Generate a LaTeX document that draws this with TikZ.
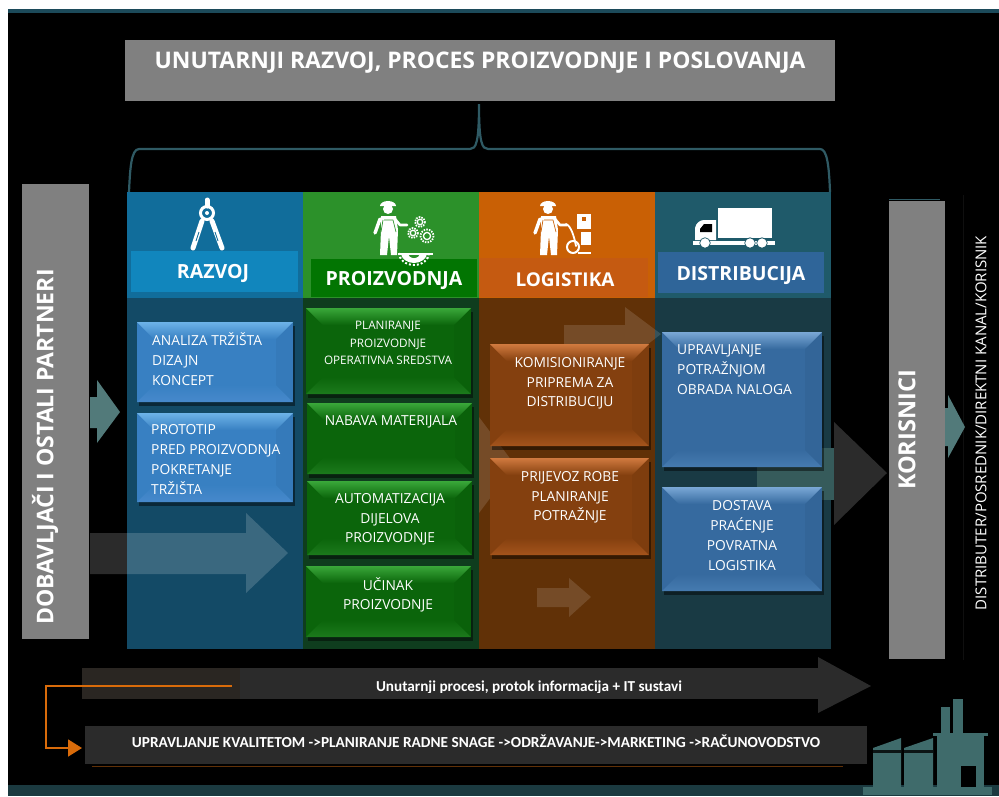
\documentclass[tikz,border=0pt]{standalone}
\usepackage{fontspec}
\setmainfont{Open Sans}
\newfontfamily\carl{Carlito}
\usetikzlibrary{arrows.meta}
\definecolor{brc}{HTML}{2F5A64}
\definecolor{barg}{HTML}{808080}
\definecolor{fct}{HTML}{3F6B6B}
\definecolor{orn}{HTML}{D96B0A}
\definecolor{dkg}{HTML}{2B2B2B}
\definecolor{dkb}{HTML}{2A2622}
\definecolor{topband}{HTML}{1C4A5A}
\definecolor{botband}{HTML}{1B3A40}
\definecolor{c1h}{HTML}{116D9B}\definecolor{c1l}{HTML}{134A66}\definecolor{c1s}{HTML}{1186BD}
\definecolor{c2h}{HTML}{2C912A}\definecolor{c2l}{HTML}{0F3D1E}\definecolor{c2s}{HTML}{027502}
\definecolor{c3h}{HTML}{C96005}\definecolor{c3l}{HTML}{613107}\definecolor{c3s}{HTML}{C55A11}
\definecolor{c4h}{HTML}{1F5A6A}\definecolor{c4l}{HTML}{193A44}\definecolor{c4s}{HTML}{2F6599}
\definecolor{bbase}{HTML}{3880C2}\definecolor{btop}{HTML}{6DB3E8}\definecolor{bbot}{HTML}{4789CC}
\definecolor{dbase}{HTML}{366A9F}\definecolor{dtop}{HTML}{7AA8D6}\definecolor{dbot}{HTML}{467BB0}
\definecolor{gbase}{HTML}{0B650B}\definecolor{gtop}{HTML}{3AA83A}\definecolor{gbot}{HTML}{1C7A1C}
\definecolor{obase}{HTML}{84400F}\definecolor{otop}{HTML}{D17A3F}\definecolor{obot}{HTML}{A5541C}
\tikzset{
  txt/.style={text=white,inner sep=0pt,font=\fontsize{#1}{#1}\selectfont},
  hdr/.style={text=white,inner sep=0pt,font=\fontsize{#1}{#1}\selectfont\bfseries},
  multi/.style={text=white,inner sep=0pt,align=#1,font=\fontsize{13.8}{19.8}\selectfont},
  ghost/.style={fill=white,fill opacity=.17,draw=none},
  ghostb/.style={fill=white,fill opacity=.13,draw=none},
  ico/.style={draw=white,line cap=round,line join=round},
}
\newcommand\rct[7]{% name x0 y0 x1 y1 color extra
  \pgfmathsetmacro\rw{#4-#2}\pgfmathsetmacro\rh{#5-#3}
  \pgfmathsetmacro\rcx{(#2+#4)/2}\pgfmathsetmacro\rcy{(#3+#5)/2}
  \node[fill=#6,draw=none,inner sep=0pt,outer sep=0pt,minimum width=\rw pt,minimum height=\rh pt,#7] (#1) at (\rcx,\rcy) {};}
\newcommand\bev[8]{% name x0 y0 x1 y1 base top bottom
  \fill[black,opacity=.45] ({#2+2},{#3+4}) rectangle ({#4+2},{#5+4});
  \rct{#1}{#2}{#3}{#4}{#5}{#6}{}
  \shade[top color=#7,bottom color=#6] (#2,#3) -- (#4,#3) -- ({#4-17},{#3+17}) -- ({#2+17},{#3+17}) -- cycle;
  \shade[top color=#6,bottom color=#8] (#2,#5) -- (#4,#5) -- ({#4-17},{#5-17}) -- ({#2+17},{#5-17}) -- cycle;
  \fill[black,opacity=.04] (#4,#3) -- (#4,#5) -- ({#4-17},{#5-17}) -- ({#4-17},{#3+17}) -- cycle;}
\newcommand\gear[3]{% x y r
  \draw[white,line width=1.3pt] (#1,#2) circle ({#3*.55});
  \draw[white,line width=1.8pt,dash pattern=on 1.5pt off 1.2pt] (#1,#2) circle (#3);}
\newcommand\worker[2]{% x offset, background colour
  \begin{scope}[shift={(#1,0)}]
  \fill[white] (380,206) arc (180:360:8 and 5) -- cycle;
  \fill[white] (388,209) circle (5);
  \fill[white] (381,216) -- (396,216) -- (398,230) -- (397,255) -- (391,255) -- (389,236) -- (387,255) -- (380,255) -- (381,230) -- cycle;
  \draw[ico,line width=3.4pt] (380,219) -- (375,233);
  \draw[ico,line width=2.6pt] (395,219) -- (400,225) -- (407,225);
  \draw[#2,line width=.7pt] (383,220) -- (381,232) (384,220) -- (393,220) (393,220) -- (396,232);
  \end{scope}}
\begin{document}
\begin{tikzpicture}[x=1pt,y=-1pt]
\useasboundingbox (0,0) rectangle (999,796);
\fill[white] (0,0) rectangle (999,796);
\fill[black] (8,9) rectangle (999,796);
\fill[topband] (8,9) rectangle (999,13);
\fill[botband] (8,785) rectangle (999,796);
\draw[black!94!white,line width=.8pt] (963,195) -- (963,660);

% title
\rct{titlebox}{125}{40}{835}{101}{barg}{}
\node[hdr=22.9] (titletext) at (480,63) {UNUTARNJI RAZVOJ, PROCES PROIZVODNJE I POSLOVANJA};

% brace
\coordinate (brL) at (129,192);
\coordinate (brR) at (830,192);
\coordinate (brT) at (479,104);
\draw[brc,line width=2.2pt] (brL) .. controls (130,170) and (131,149) .. (139,149) -- (470,149)
  .. controls (476,149) and (479,143) .. (brT)
  .. controls (479,143) and (482,149) .. (488,149) -- (820,149)
  .. controls (827,149) and (829,165) .. (brR);

% columns
\rct{colAh}{127}{192}{303}{298}{c1h}{}
\rct{colBh}{303}{192}{479}{298}{c2h}{}
\rct{colCh}{479}{192}{655}{298}{c3h}{}
\rct{colDh}{655}{192}{831}{298}{c4h}{}
\rct{colAl}{127}{298}{303}{649}{c1l}{}
\rct{colBl}{303}{298}{479}{649}{c2l}{}
\rct{colCl}{479}{298}{655}{649}{c3l}{}
\rct{colDl}{655}{298}{831}{649}{c4l}{}
\rct{subA}{131}{251}{298}{292}{c1s}{}
\rct{subB}{311}{259}{477}{297}{c2s}{}
\rct{subC}{479}{258}{648}{297}{c3s}{}
\rct{subD}{658}{252}{824}{293}{c4s}{}
\node[hdr=19.5] (labA) at (213,273) {RAZVOJ};
\node[hdr=19.5] (labB) at (394,280) {PROIZVODNJA};
\node[hdr=19] (labC) at (565,280) {LOGISTIKA};
\node[hdr=19.5] (labD) at (741,275) {DISTRIBUCIJA};

% side bars
\rct{leftbar}{22}{184}{89}{639}{barg}{}
\node[hdr=23,rotate=90] (lefttext) at (45,447) {DOBAVLJAČI I OSTALI PARTNERI};
\draw[brc,line width=1pt] (889,199.5) -- (940,199.5);
\rct{rightbar}{889}{201}{945}{659}{barg}{}
\node[hdr=23.5,rotate=90] (righttext) at (907,430) {KORISNICI};
\node[txt=15,rotate=90] (sidetext) at (981,423) {DISTRIBUTER/POSREDNIK/DIREKTNI KANAL/KORISNIK};

% block arrows
\fill[fct!90!white] (90,397) -- (97,397) -- (97,380) -- (120,412) -- (97,443) -- (97,428) -- (90,428) -- cycle;
\fill[fct!90!white] (945,408) -- (948,408) -- (948,395) -- (965,427) -- (948,458) -- (948,446) -- (945,446) -- cycle;
\fill[ghost] (90,533) -- (246,533) -- (246,513) -- (288,553) -- (246,593) -- (246,574) -- (90,574) -- cycle;
\fill[ghostb] (564,325) -- (625,325) -- (625,307) -- (661,334) -- (625,362) -- (625,346) -- (564,346) -- cycle;
\fill[ghostb] (537,588) -- (569,588) -- (569,578) -- (591,597) -- (569,617) -- (569,607) -- (537,607) -- cycle;
\fill[ghostb] (479,417) -- (515,465) -- (479,513) -- cycle;
\fill[fct!85!black] (757,448) rectangle (834,500);
\fill[dkg] (834,422) -- (887,473) -- (834,525) -- cycle;

% blue boxes, column A
\bev{a1}{137}{322}{293}{402}{bbase}{btop}{bbot}
\bev{a2}{137}{413}{293}{502}{bbase}{btop}{bbot}
\node[multi=left,anchor=north west] (a1t) at (152,332.5) {ANALIZA TRŽIŠTA\\DIZAJN\\KONCEPT};
\node[multi=left,anchor=north west] (a2t) at (151,424.5) {PROTOTIP\\PRED PROIZVODNJA\\POKRETANJE\\TRŽIŠTA};

% green boxes, column B
\bev{b1}{306}{308}{471}{394}{gbase}{gtop}{gbot}
\bev{b2}{307}{403}{472}{474}{gbase}{gtop}{gbot}
\bev{b3}{307}{481}{472}{555}{gbase}{gtop}{gbot}
\bev{b4}{306}{566}{471}{637}{gbase}{gtop}{gbot}
\node[text=white,inner sep=0pt,align=center,font=\fontsize{11.7}{17.5}\selectfont,anchor=north] (b1t) at (388,321) {PLANIRANJE\\PROIZVODNJE\\OPERATIVNA SREDSTVA};
\node[multi=center,anchor=north] (b2t) at (391,415.5) {NABAVA MATERIJALA};
\node[multi=center,anchor=north] (b3t) at (390,493) {AUTOMATIZACIJA\\DIJELOVA\\PROIZVODNJE};
\node[multi=center,anchor=north] (b4t) at (388,577) {UČINAK\\PROIZVODNJE};

% orange boxes, column C
\bev{c1}{490}{344}{649}{446}{obase}{otop}{obot}
\bev{c2}{490}{458}{649}{555}{obase}{otop}{obot}
\node[multi=center,anchor=north] (c1t) at (570,357) {KOMISIONIRANJE\\PRIPREMA ZA\\DISTRIBUCIJU};
\node[multi=center,anchor=north] (c2t) at (570,471) {PRIJEVOZ ROBE\\PLANIRANJE\\POTRAŽNJE};

% blue boxes, column D
\bev{d1}{662}{332}{822}{467}{dbase}{dtop}{dbot}
\bev{d2}{662}{487}{822}{591}{dbase}{dtop}{dbot}
\node[multi=left,anchor=north west] (d1t) at (677,344.5) {UPRAVLJANJE\\POTRAŽNJOM\\OBRADA NALOGA};
\node[multi=center,anchor=north] (d2t) at (742,500.5) {DOSTAVA\\PRAĆENJE\\POVRATNA\\LOGISTIKA};

% compass icon
\draw[ico,line width=5pt] (207,200) -- (207,206);
\draw[white,line width=3pt] (207,213) circle (6.5);
\fill[white] (207,213) circle (2);
\draw[ico,line width=5pt] (202,221) -- (193,248);
\draw[ico,line width=5pt] (212,221) -- (222,248);
\draw[c1h,line width=.8pt] (199,232) -- (196,241) (215,232) -- (218,241);

% worker with gears
\worker{0}{c2h}
\gear{420}{222}{5}
\gear{413}{233}{5}
\gear{427}{236}{6.5}
\fill[white] (401,253) arc (180:0:13 and 10) -- cycle;
\fill[c2h] (408,253) arc (180:0:6 and 5) -- cycle;
\draw[white,line width=2pt,dash pattern=on 2pt off 2pt] (399,253) arc (180:0:15 and 12);
\draw[white,line width=2pt] (398,254) -- (433,254);

% worker with cart
\worker{160}{c3h}
\draw[ico,line width=1.8pt] (566,224) .. controls (571,226) and (574,236) .. (576,246);
\draw[white,line width=2pt] (573,247) circle (6);
\fill[white] (577,214) rectangle (591,229);
\fill[c3h] (582,217) rectangle (586,221);
\fill[white] (581,232) rectangle (591,245);
\draw[white,line width=2pt] (578,253) -- (591,253);

% truck icon
\fill[white] (718,208) rectangle (772,238);
\fill[white] (695,240) -- (695,228) .. controls (696,223) and (700,220) .. (704,220) -- (716,220) -- (716,240) -- cycle;
\fill[black] (700,232) -- (700,229) -- (704,224) -- (712,224) -- (712,232) -- cycle;
\fill[white] (693,241) rectangle (775,245);
\foreach \tx in {705,750,762}{
  \draw[white,fill=white,line width=.5pt] (\tx,243) circle (4.5);
  \draw[c4h,line width=.7pt] (\tx,243) circle (5.3);
}

% bottom arrow
\fill[dkb] (82,668) rectangle (240,699);
\fill[dkg] (240,668) rectangle (818,699);
\fill[dkg] (818,657) -- (871,686) -- (818,713) -- cycle;
\begin{scope}
\clip (300,668) rectangle (760,692);
\node[text=white,inner sep=0pt,anchor=base,font=\carl\bfseries\fontsize{15.2}{15.2}\selectfont] (midtext) at (529,691) {Unutarnji procesi, protok informacija + IT sustavi};
\end{scope}

% bottom box
\rct{botbox}{85}{726}{867}{764}{dkg}{}
\fill[c3l] (92,765.5) rectangle (843,767);
\node[text=white,inner sep=0pt,font=\carl\bfseries\fontsize{15.3}{15.3}\selectfont] (bottext) at (476,741) {UPRAVLJANJE KVALITETOM ->PLANIRANJE RADNE SNAGE ->ODRŽAVANJE->MARKETING ->RAČUNOVODSTVO};

% orange connector
\coordinate (orA) at (232,686);
\coordinate (orB) at (46,686);
\coordinate (orC) at (46,748);
\coordinate (orD) at (82,748);
\draw[orn,line width=1.8pt,-{Triangle[length=14pt,width=17pt]}] (orA) -- (orB) -- (orC) -- (orD);

% factory
\fill[fct] (863,787) rectangle (992,795);
\fill[fct] (873,787) -- (873,748) -- (901,738) -- (901,787) -- cycle;
\fill[fct] (904,787) -- (904,748) -- (933,738) -- (933,787) -- cycle;
\fill[black!80!fct] (873,750) rectangle (901,753);
\fill[black!80!fct] (904,750) rectangle (933,753);
\fill[fct] (937,787) rectangle (984,735);
\fill[fct] (933,733) rectangle (988,736);
\fill[fct] (941,707) rectangle (950,733);
\fill[fct] (953,699) rectangle (963,733);
\fill[black] (961,766) rectangle (976,787);
\end{tikzpicture}
\end{document}
